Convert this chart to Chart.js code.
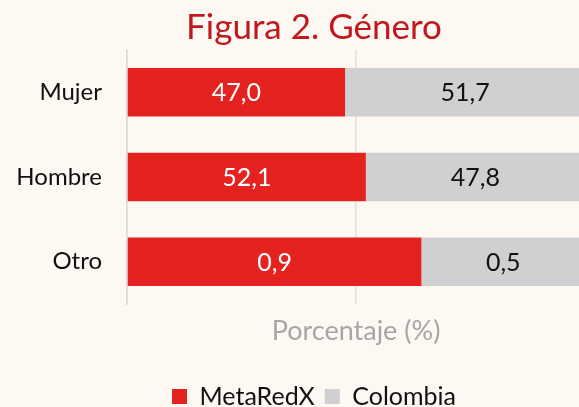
<!DOCTYPE html>
<html>
<head>
<meta charset="utf-8">
<script src="https://cdn.jsdelivr.net/npm/chart.js@4"></script>
<style>
  html, body { margin: 0; padding: 0; overflow: hidden; background: #fdf8f2; }
  #wrap { position: relative; width: 628px; height: 419px; }
</style>
</head>
<body>
<div id="wrap"><canvas id="myChart"></canvas></div>
<script>
// data
var categories = ["Mujer", "Hombre", "Otro"]
var metaredx = [47.0, 52.1, 0.9]
var colombia = [51.7, 47.8, 0.5]
var ticks_x = [0, 50, 100]

// 100% stacked: each bar is the share of its row total
function share(a, b, i){
    return a[i] / (a[i] + b[i]) * 100
}
var metaredx_pct = metaredx.map(function(v, i){ return share(metaredx, colombia, i) })
var colombia_pct = colombia.map(function(v, i){ return share(colombia, metaredx, i) })
var raw = [metaredx, colombia]

var font_family = "Lato, 'Open Sans', sans-serif"

// value labels in the middle of each segment
var valueLabels = {
    id: 'valueLabels',
    afterDatasetsDraw: function(chart){
        var ctx = chart.ctx
        ctx.save()
        ctx.font = "25px " + font_family
        ctx.textAlign = 'center'
        ctx.textBaseline = 'middle'
        chart.data.datasets.forEach(function(ds, d){
            chart.getDatasetMeta(d).data.forEach(function(bar, i){
                var p = bar.getProps(['x', 'y', 'base'], true)
                ctx.fillStyle = d === 0 ? '#ffffff' : '#111111'
                var txt = raw[d][i].toFixed(1).replace('.', ',')
                ctx.fillText(txt, (p.x + p.base) / 2, p.y + 1)
            })
        })
        ctx.restore()
    }
}

// let the category labels use the left padding too (otherwise they get clipped)
var labelRoom = {
    id: 'labelRoom',
    afterLayout: function(chart){
        chart.scales.y.left = 0
    }
}

var ctx = document.getElementById('myChart').getContext("2d")
var chart = new Chart(ctx, {
    type: 'bar',
    plugins: [valueLabels, labelRoom],
    data: {
        labels: categories,
        datasets: [{
            label: 'MetaRedX',
            data: metaredx_pct,
            backgroundColor: '#e42321',
            barPercentage: 0.573,
            categoryPercentage: 1
        }, {
            label: 'Colombia',
            data: colombia_pct,
            backgroundColor: '#d0d0d0',
            barPercentage: 0.573,
            categoryPercentage: 1
        }]
    },
    options: {
        indexAxis: 'y',
        responsive: true,
        maintainAspectRatio: false,
        animation: false,
        // the original figure is cropped on the right, the 100% line falls off the page
        layout: { padding: { left: 43, right: 43, top: 0, bottom: 0 } },
        scales: {
            x: {
                stacked: true,
                min: ticks_x[0],
                max: ticks_x[ticks_x.length - 1],
                afterBuildTicks: function(s){
                    s.ticks = ticks_x.map(function(v){ return { value: v } })
                },
                ticks: { display: false },
                grid: { color: '#e3e0db', lineWidth: 1.5, drawTicks: false },
                border: { display: false },
                title: {
                    display: true,
                    text: 'Porcentaje (%)',
                    color: '#a6a6a6',
                    font: { family: font_family, size: 27 },
                    padding: { top: 0, bottom: 27 }
                },
                afterFit: function(s){ s.height = 70 }
            },
            y: {
                stacked: true,
                grid: { display: false, drawTicks: false },
                border: { display: true, color: '#dcdad6', width: 1.5 },
                ticks: {
                    color: '#111111',
                    padding: 25,
                    font: { family: font_family, size: 24 }
                },
                afterFit: function(s){ s.width = 84 }
            }
        },
        plugins: {
            title: {
                display: true,
                text: 'Figura 2. Género',
                color: '#c0181e',
                font: { family: font_family, size: 35, weight: 'normal' },
                padding: { top: 7, bottom: 1 }
            },
            legend: {
                display: true,
                position: 'bottom',
                labels: {
                    color: '#111111',
                    boxWidth: 15,
                    boxHeight: 15,
                    padding: 10,
                    font: { family: font_family, size: 25 }
                }
            },
            tooltip: { enabled: false }
        }
    }
})
</script>
</body>
</html>
